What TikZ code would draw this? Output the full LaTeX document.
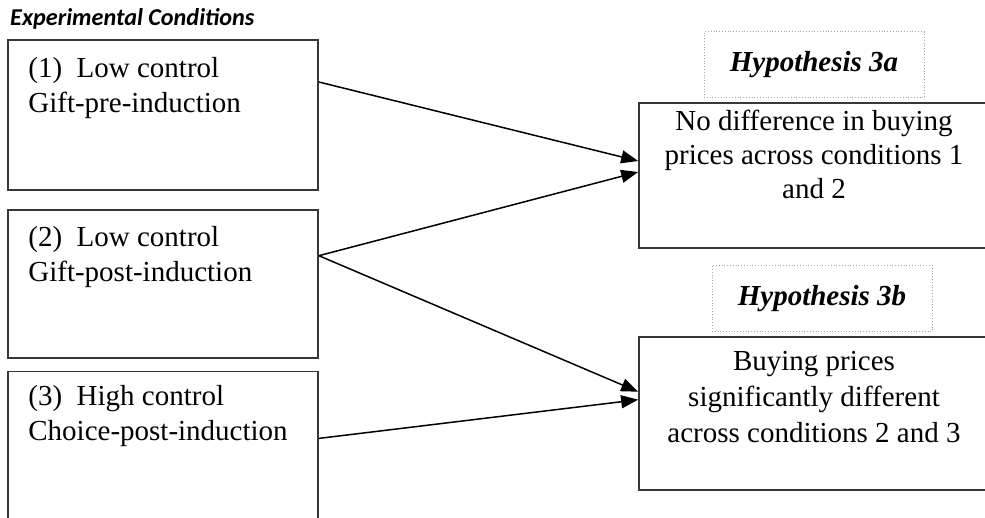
\documentclass[tikz,border=0pt]{standalone}
\usepackage{fontspec}
\setmainfont{Liberation Serif}
\newfontfamily\headfont{Carlito}
\usepackage{xcolor}
\usepackage{tikz}
\usetikzlibrary{positioning,arrows.meta}
\definecolor{boxgray}{RGB}{55,55,55}
\definecolor{dotgray}{RGB}{165,165,165}

\begin{document}
\begin{tikzpicture}[
    x=1pt, y=-1pt,
    cond/.style={rectangle, draw=boxgray, line width=1.7pt, minimum width=310pt, inner sep=0pt},
    result/.style={rectangle, draw=boxgray, line width=1.7pt, minimum width=350pt, inner sep=0pt},
    hyp/.style={rectangle, draw=dotgray, dotted, line width=0.8pt, minimum width=220pt, minimum height=66pt, inner sep=0pt, font=\fontsize{29}{34}\selectfont\bfseries\itshape},
    ctext/.style={inner sep=0pt, align=left, font=\fontsize{29}{35}\selectfont},
    rtext/.style={inner sep=0pt, align=center, font=\fontsize{29}{34}\selectfont},
    link/.style={-{Triangle[length=17pt, width=13pt]}, line width=1.5pt, draw=black}
  ]
    \useasboundingbox (0,0) rectangle (985,518);

    \node[anchor=base west, inner sep=0pt, font=\headfont\fontsize{24.2}{28}\selectfont\bfseries\itshape] (title) at (10,26) {Experimental Conditions};

    \node[cond, minimum height=150pt] (c1) at (163,115) {};
    \node[cond, minimum height=148pt, below=18pt of c1] (c2) {};
    \node[cond, minimum height=152pt, below=12pt of c2] (c3) {};

    \node[ctext, below right=18pt and 21pt of c1.north west] (t1) {(1)~~Low control\\Gift-pre-induction};
    \node[ctext, below right=17pt and 21pt of c2.north west] (t2) {(2)~~Low control\\Gift-post-induction};
    \node[ctext, below right=15pt and 21pt of c3.north west] (t3) {(3)~~High control\\Choice-post-induction};

    \node[result, minimum height=145pt] (ra) at (814,175.5) {};
    \node[result, minimum height=153pt, below=87pt of ra] (rb) {};

    \node[rtext, below=8pt of ra.north] (ta) {No difference in buying\\prices across conditions 1\\and 2};
    \node[rtext, below=15pt of rb.north, font=\fontsize{29}{36}\selectfont] (tb) {Buying prices\\significantly different\\across conditions 2 and 3};

    \node[hyp, above=4pt of ra] (ha) {Hypothesis 3a};
    \node[hyp, above=4pt of rb, xshift=8pt] (hb) {Hypothesis 3b};

    \draw[link] ([yshift=33pt]c1.east) -- ([yshift=14.5pt]ra.west);
    \draw[link] ([yshift=28pt]c2.east) -- ([yshift=3.5pt]ra.west);
    \draw[link] ([yshift=28pt]c2.east) -- ([yshift=21.5pt]rb.west);
    \draw[link] ([yshift=9pt]c3.east) -- ([yshift=13.5pt]rb.west);
  \end{tikzpicture}
\end{document}
